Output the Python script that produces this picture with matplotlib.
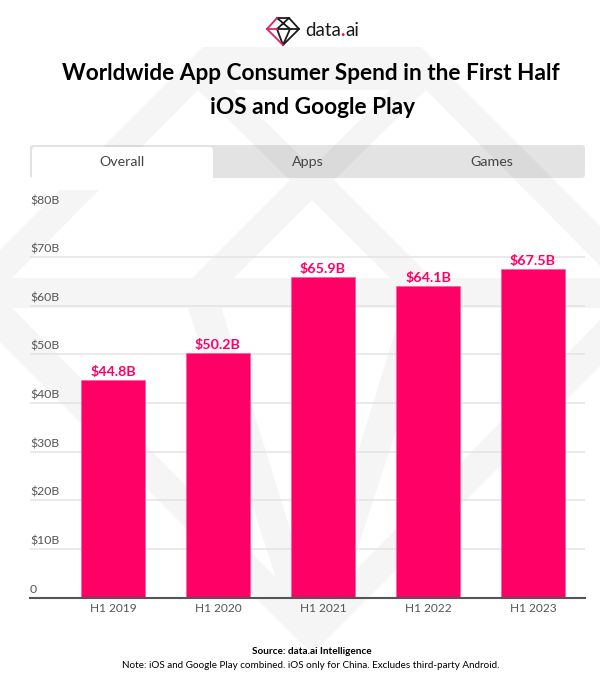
import matplotlib
matplotlib.use("Agg")
import matplotlib.pyplot as plt
from matplotlib.patches import Polygon, Rectangle, FancyBboxPatch

plt.rcParams['font.family'] = ['Lato', 'DejaVu Sans']

periods = ['H1 2019', 'H1 2020', 'H1 2021', 'H1 2022', 'H1 2023']
spend = [44.8, 50.2, 65.9, 64.1, 67.5]
value_labels = ['$44.8B', '$50.2B', '$65.9B', '$64.1B', '$67.5B']
y_ticks = [0, 10, 20, 30, 40, 50, 60, 70, 80]
y_labels = ['0', '$10B', '$20B', '$30B', '$40B', '$50B', '$60B', '$70B', '$80B']
tabs = ['Overall', 'Apps', 'Games']

PINK = '#ff0066'
TEXT = '#555555'
W, H = 600, 688
fig = plt.figure(figsize=(W / 100, H / 100), dpi=100)

# Background layer in pixel coordinates (watermark, tabs, logo, titles)
bg = fig.add_axes([0, 0, 1, 1])
bg.set_xlim(0, W)
bg.set_ylim(H, 0)
bg.axis('off')

# Watermark gem, left half gets mirrored around x=312
MID = 312
left_bands = [
    [(203, 47), (312, 47), (312, 90), (198, 90), (12, 278), (-46, 296)],   # upper left edge + top
    [(-46, 296), (12, 308), (276, 578), (312, 654)],                       # lower left edge
    [(198, 90), (234, 90), (328, 184), (290, 180)],                        # X arm
    [(290, 180), (328, 184), (234, 278), (192, 278)],                      # arm going down left
    [(188, 308), (218, 297), (312, 600), (312, 654), (276, 578)],          # steep band
]
for band in left_bands:
    mirrored = [(2 * MID - x, y) for x, y in band]
    for pts in (band, mirrored):
        bg.add_patch(Polygon(pts, closed=True, fc='#f5f5f5', ec='none', zorder=1))
bg.add_patch(Polygon([(-46, 296), (12, 278), (612, 278), (612, 308), (12, 308)],
                     closed=True, fc='#f5f5f5', ec='none', zorder=1))

# Tabs
bg.add_patch(FancyBboxPatch((30, 145), 555, 33, boxstyle='round,pad=0,rounding_size=3',
                            fc='black', alpha=0.11, ec='none', zorder=2))
bg.add_patch(FancyBboxPatch((32, 147), 181, 40, boxstyle='round,pad=0,rounding_size=3',
                            fc='white', ec='none', zorder=3))
bg.add_patch(Rectangle((30, 178), 190, 12, fc='white', ec='none', zorder=3))
for name, x in zip(tabs, [122.5, 308, 492]):
    bg.text(x, 162, name, ha='center', va='center', fontsize=10.3, color='#444444', zorder=4)

# Logo
gem_dark = [[(277, 18), (289, 18), (299, 29), (283, 45)],
            [(289, 18), (277, 29), (283, 45), (290, 29), (277, 18)],
            [(277, 29), (290, 29), (299, 29)]]
gem_pink = [[(277, 18), (267, 29), (283, 45)], [(267, 29), (277, 29)]]
for seg in gem_dark:
    bg.plot(*zip(*seg), color='#1a1a1a', lw=1.3, zorder=4)
for seg in gem_pink:
    bg.plot(*zip(*seg), color='#e0245e', lw=1.3, zorder=4)
bg.text(305, 31, 'data', ha='left', va='center', fontsize=13.5, color='#1a1a1a', zorder=4)
bg.text(340.5, 31, '.', ha='left', va='center', fontsize=13.5, color=PINK, fontweight='bold', zorder=4)
bg.text(345, 31, 'ai', ha='left', va='center', fontsize=13.5, color='#1a1a1a', zorder=4)

# Titles and notes
bg.text(311, 73, 'Worldwide App Consumer Spend in the First Half', ha='center', va='center',
        fontsize=16.3, fontweight='bold', color='black', zorder=4)
bg.text(312, 107, 'iOS and Google Play', ha='center', va='center',
        fontsize=16.3, fontweight='bold', color='black', zorder=4)
bg.text(312, 652, 'Source: data.ai Intelligence', ha='center', va='center',
        fontsize=7.2, fontweight='bold', color='black', zorder=4)
bg.text(311, 666, 'Note: iOS and Google Play combined. iOS only for China. Excludes third-party Android.',
        ha='center', va='center', fontsize=7.1, color='black', zorder=4)

# Chart
ax = fig.add_axes([30 / W, 1 - 597.5 / H, 555 / W, 389 / H])
ax.patch.set_alpha(0)
ax.bar(range(len(spend)), spend, width=0.605, color=PINK, edgecolor='#ff5c9d', linewidth=0.5, zorder=3)
ax.set_xlim(-0.79, 4.495)
ax.set_ylim(0, 80)

for i, v in enumerate(spend):
    ax.annotate(value_labels[i], (i, v), xytext=(0, 1.5), textcoords='offset points', ha='center',
                va='bottom', fontsize=10.3, fontweight='bold', color=PINK, zorder=4)
for t, lab in zip(y_ticks, y_labels):
    ax.annotate(lab, (0, t), xycoords=('axes fraction', 'data'), xytext=(0, 1.8), textcoords='offset points',
                ha='left', va='bottom', fontsize=8.8, color=TEXT)

ax.set_yticks(y_ticks)
ax.set_yticklabels([])
ax.set_xticks(range(len(periods)))
ax.set_xticklabels(periods, fontsize=8.6, color=TEXT)
ax.tick_params(axis='both', length=0)
ax.tick_params(axis='x', pad=4)
ax.grid(axis='y', color='#e4e4e4', linewidth=1.1, zorder=0)
for side in ['top', 'left', 'right']:
    ax.spines[side].set_visible(False)
ax.spines['bottom'].set_color('#555555')
ax.spines['bottom'].set_linewidth(1.5)
ax.spines['bottom'].set_zorder(5)

plt.savefig('out.png', dpi=100)
